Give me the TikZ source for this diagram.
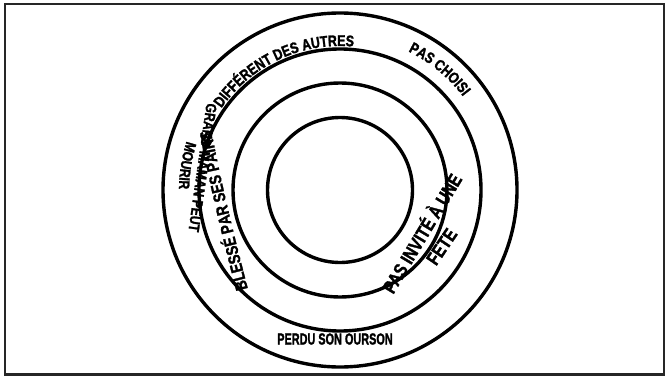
\documentclass[tikz,border=0pt]{standalone}
\usepackage{fontspec}
\newfontfamily\lbl[FakeStretch=0.8, FakeBold=1.6]{Liberation Sans Bold}
\usetikzlibrary{decorations.text,calc}
\begin{document}
\begin{tikzpicture}[x=1pt,y=1pt,
  ring/.style={draw=black, line width=3.4pt},
  frame/.style={draw=black!85, line width=2.2pt},
  curvetext/.style={decorate, decoration={text along path, text align=center, text={#1}}},
  flatlabel/.style={inner sep=0pt}
]
\useasboundingbox (0,0) rectangle (668,378);
\draw[frame] (5,3.5) rectangle (664,374);
\coordinate (C) at (340,188);
\draw[ring] (C) circle[radius=177pt];
\draw[ring] (C) circle[radius=141pt];
\draw[ring] (C) circle[radius=107pt];
\draw[ring] (C) circle[radius=72.5pt];

% DIFFERENT DES AUTRES
\path[curvetext={|\lbl\fontsize{15.5}{15.5}\selectfont|DIFFÉRENT DES AUTRES}]
  ($(C)+(155:144pt)$) arc[start angle=155, end angle=75, radius=144pt];
% PAS CHOISI
\path[curvetext={|\lbl\fontsize{15.5}{15.5}\selectfont|PAS CHOISI}]
  ($(C)+(80:154.5pt)$) arc[start angle=80, end angle=21, radius=154.5pt];
% MOURIR
\path[curvetext={|\lbl\fontsize{15}{15}\selectfont|MOURIR}]
  ($(C)+(151:161pt)$) arc[start angle=151, end angle=191, radius=161pt];
% GRAND-MAMAN PEUT
\coordinate (g1) at (209,292);
\coordinate (g2) at (186,130);
\path[curvetext={|\lbl\fontsize{15}{15}\selectfont|GRAND-MAMAN PEUT}] (g1) -- (g2);
% BLESSE PAR SES PAIRS
\coordinate (b1) at (254,66);
\coordinate (b2) at (207,272);
\path[curvetext={|\lbl\fontsize{17}{17}\selectfont|BLESSÉ PAR SES PAIRS}]
  (b1) .. controls (237,130) and (218,205) .. (b2);

\node[flatlabel, anchor=base, rotate=59, font=\lbl\fontsize{19}{19}\selectfont] (inv) at (428,141) {PAS INVITÉ À UNE};
\node[flatlabel, anchor=base, rotate=56, font=\lbl\fontsize{19}{19}\selectfont] (fete) at (447.1,127.7) {FETE};
\node[flatlabel, font=\lbl\fontsize{16}{16}\selectfont, xscale=0.85] (ours) at (335,39) {PERDU SON OURSON};
\end{tikzpicture}
\end{document}
